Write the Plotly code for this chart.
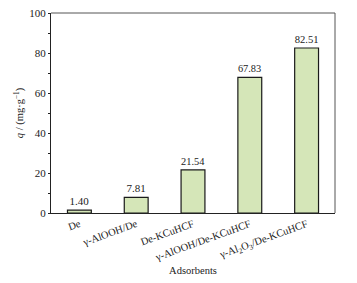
import plotly.graph_objects as go

categories = ["De", "γ-AlOOH/De", "De-KCuHCF", "γ-AlOOH/De-KCuHCF", "γ-Al<sub>2</sub>O<sub>3</sub>/De-KCuHCF"]
values = [1.40, 7.81, 21.54, 67.83, 82.51]
labels = ["1.40", "7.81", "21.54", "67.83", "82.51"]

font_family = "Liberation Serif"

fig = go.Figure()
fig.add_trace(go.Bar(
    x=categories, y=values, width=0.42,
    marker=dict(color="#d5e6b8", line=dict(color="#1a1a1a", width=1.2)),
    text=labels, textposition="outside", cliponaxis=False,
    textfont=dict(family=font_family, size=11, color="#222"),
))

fig.update_layout(
    width=349, height=275,
    margin=dict(l=43, r=22, t=5, b=70, autoexpand=False),
    plot_bgcolor="white", paper_bgcolor="white",
    showlegend=False,
    font=dict(family=font_family, size=11, color="#222"),
    xaxis=dict(
        range=[-0.5, 4.5], tickangle=-20, tickfont=dict(size=10.5), automargin=False,
        showline=True, linecolor="#222", linewidth=1.3, mirror=False,
        ticks="", showgrid=False, zeroline=False,
        title=dict(text="Adsorbents", font=dict(size=10.5), standoff=4),
    ),
    yaxis=dict(
        range=[0, 100], dtick=20, ticks="outside", ticklen=2, tickwidth=1, tickcolor="#222",
        minor=dict(dtick=10, ticks="outside", ticklen=1.5, tickcolor="#222"),
        showline=True, linecolor="#222", linewidth=1.3, showgrid=False, zeroline=False,
        tickfont=dict(size=11), automargin=False, ticklabeloverflow="allow",
        title=dict(text="<i>q</i> / (mg·g<sup>−1</sup>)", font=dict(size=10.5), standoff=3),
    ),
    shapes=[
        dict(type="line", xref="paper", yref="paper", x0=0, x1=1, y0=1, y1=1,
             line=dict(color="#555", width=1)),
        dict(type="line", xref="paper", yref="paper", x0=1, x1=1, y0=0, y1=1,
             line=dict(color="#555", width=1)),
    ],
)

fig.write_html("out.html")
